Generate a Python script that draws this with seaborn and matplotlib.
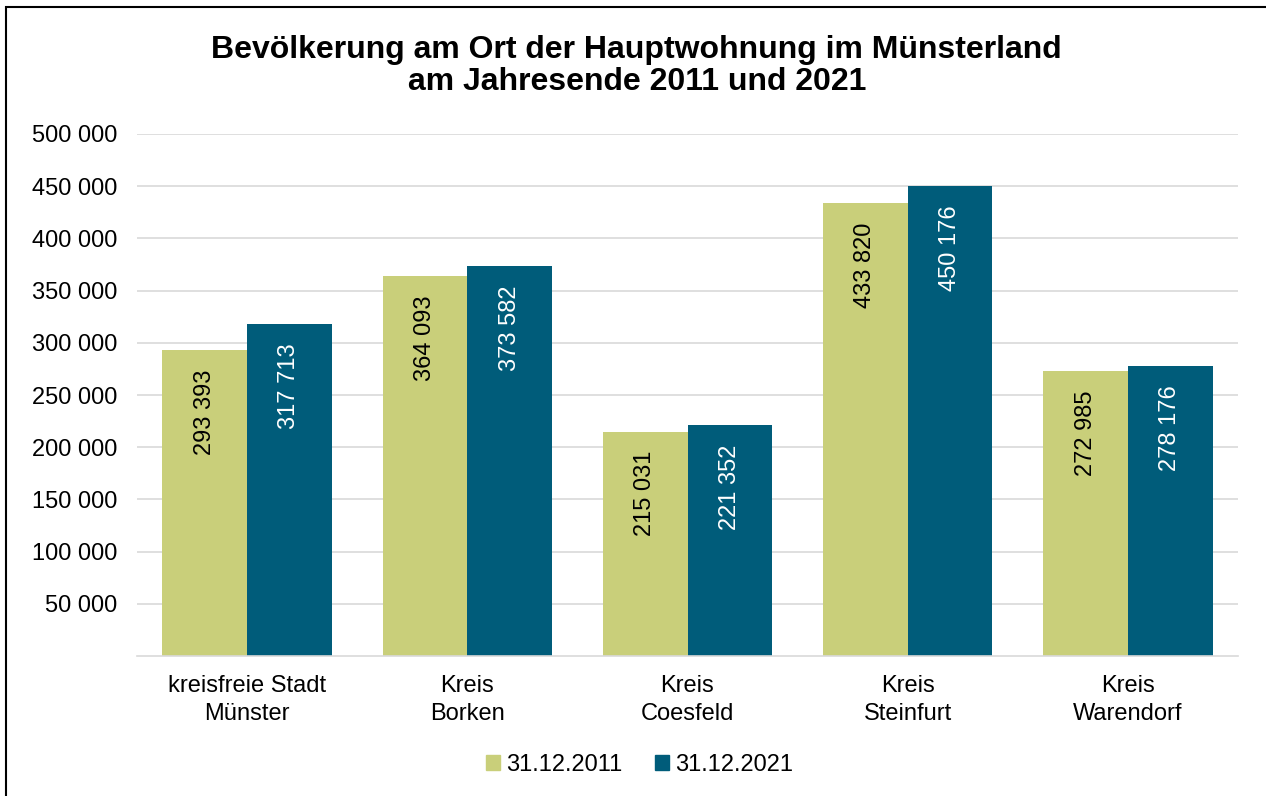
import matplotlib
matplotlib.use("Agg")
import matplotlib.pyplot as plt
import matplotlib.patches as mpatches
import seaborn as sns
import pandas as pd

# data
kreise = ["kreisfreie Stadt\nMünster", "Kreis\nBorken", "Kreis\nCoesfeld",
          "Kreis\nSteinfurt", "Kreis\nWarendorf"]
stichtage = ["31.12.2011", "31.12.2021"]
werte_2011 = [293393, 364093, 215031, 433820, 272985]
werte_2021 = [317713, 373582, 221352, 450176, 278176]
farben = ["#C9CF7A", "#005C7A"]
yticks = list(range(50000, 500001, 50000))


def fmt(v):
    return f"{v:,}".replace(",", " ")


def main():
    df = pd.DataFrame({
        "Kreis": kreise * 2,
        "Stichtag": [stichtage[0]] * 5 + [stichtage[1]] * 5,
        "Einwohner": werte_2011 + werte_2021,
    })

    sns.set_style("white")
    plt.rcParams["font.family"] = ["Liberation Sans", "DejaVu Sans"]
    plt.rcParams["text.color"] = "black"
    plt.rcParams["xtick.color"] = "black"
    plt.rcParams["ytick.color"] = "black"

    fs = 17

    fig = plt.figure(figsize=(12.66, 7.96), dpi=100)
    ax = fig.add_axes([137 / 1266, 1 - 656 / 796, 1101 / 1266, 522 / 796])

    sns.barplot(data=df, x="Kreis", y="Einwohner", hue="Stichtag",
                palette=farben, width=0.77, saturation=1, ax=ax,
                legend=False, linewidth=0)

    ax.set_ylim(0, 500000)
    ax.set_yticks(yticks)
    ax.set_yticklabels([fmt(v) for v in yticks], fontsize=fs)
    ax.tick_params(axis="x", labelsize=fs, pad=14, labelcolor="black")
    ax.tick_params(axis="y", pad=14, labelcolor="black")
    ax.tick_params(length=0)
    for lab in ax.get_xticklabels():
        lab.set_linespacing(1.3)
    ax.yaxis.grid(True, color="#D9D9D9", linewidth=1.2)
    ax.set_axisbelow(True)
    ax.set_xlabel("")
    ax.set_ylabel("")
    for s in ["top", "right", "left"]:
        ax.spines[s].set_visible(False)
    ax.spines["bottom"].set_color("#D9D9D9")
    ax.spines["bottom"].set_linewidth(1.2)

    # value labels inside bars, rotated
    for cont, tc in zip(ax.containers, ["black", "white"]):
        for bar in cont:
            h = bar.get_height()
            ax.annotate(fmt(int(round(h))),
                        (bar.get_x() + bar.get_width() / 2, h),
                        xytext=(0, -14), textcoords="offset points",
                        rotation=90, ha="center", va="top",
                        fontsize=fs, color=tc)

    fig.text(0.503, 1 - 66 / 796,
             "Bevölkerung am Ort der Hauptwohnung im Münsterland\n"
             "am Jahresende 2011 und 2021",
             ha="center", va="center", fontsize=23, fontweight="bold",
             linespacing=1.12, color="black")

    handles = [mpatches.Patch(color=c, label=l) for c, l in zip(farben, stichtage)]
    fig.legend(handles=handles, loc="center", bbox_to_anchor=(0.505, 1 - 765 / 796),
               ncol=2, frameon=False, fontsize=fs, handlelength=0.6,
               handleheight=0.6, handletextpad=0.25, columnspacing=1.4)

    # outer frame (only left and top visible in the reference)
    frame = mpatches.Rectangle((6 / 1266, -0.01), 1.2, 1 - 7 / 796 + 0.01,
                               transform=fig.transFigure, fill=False,
                               edgecolor="black", linewidth=1.5)
    fig.patches.append(frame)

    fig.savefig("out.png", dpi=100)


if __name__ == "__main__":
    main()
